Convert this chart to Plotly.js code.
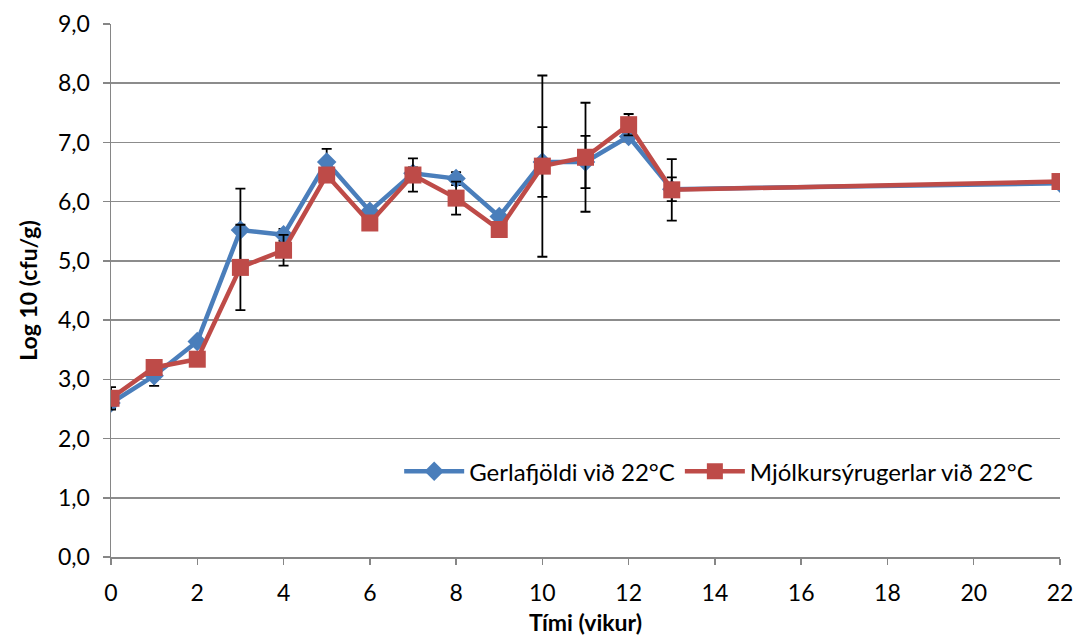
<!DOCTYPE html>
<html>
<head>
<meta charset="utf-8">
<script src="https://cdn.plot.ly/plotly-3.0.1.min.js"></script>
<style>html,body{margin:0;padding:0;background:#fff;}#chart{width:1078px;height:643px;}</style>
</head>
<body>
<div id="chart"></div>
<script>
const weeks = [0, 1, 2, 3, 4, 5, 6, 7, 8, 9, 10, 11, 12, 13, 22];
const gerlafjoldi = [2.60, 3.06, 3.64, 5.52, 5.44, 6.67, 5.84, 6.48, 6.39, 5.75, 6.67, 6.67, 7.10, 6.21, 6.31];
const gerlafjoldiErr = [0.10, 0.17, 0.05, 0.70, 0.10, 0.22, 0.05, 0.10, 0.11, 0.05, 0.59, 0.44, 0.05, 0.20, 0.05];
const mjolkursyru = [2.68, 3.20, 3.34, 4.89, 5.18, 6.45, 5.64, 6.45, 6.06, 5.53, 6.60, 6.75, 7.30, 6.20, 6.34];
const mjolkursyruErr = [0.19, 0.05, 0.05, 0.72, 0.26, 0.05, 0.05, 0.28, 0.28, 0.05, 1.53, 0.92, 0.18, 0.52, 0.05];
const seriesNames = ['Gerlafjöldi við 22°C', 'Mjólkursýrugerlar við 22°C'];

const errStyle = (arr) => ({type: 'data', array: arr, visible: true, color: '#000000', thickness: 1.8, width: 5});

const traces = [
  {
    x: weeks, y: gerlafjoldi, name: seriesNames[0], type: 'scatter', mode: 'lines+markers',
    line: {color: '#4A7EBB', width: 4.5},
    marker: {symbol: 'diamond', size: 15, color: '#4A7EBB'},
    error_y: errStyle(gerlafjoldiErr)
  },
  {
    x: weeks, y: mjolkursyru, name: seriesNames[1], type: 'scatter', mode: 'lines+markers',
    line: {color: '#BE4B48', width: 4.5},
    marker: {symbol: 'square', size: 17, color: '#BE4B48'},
    error_y: errStyle(mjolkursyruErr)
  }
];

const fontFam = 'Lato, "Open Sans", "DejaVu Sans", sans-serif';
const layout = {
  width: 1078, height: 643,
  margin: {l: 111, r: 18, t: 24, b: 86},
  paper_bgcolor: '#ffffff', plot_bgcolor: '#ffffff',
  separators: ',.',
  font: {family: fontFam, size: 23, color: '#000000'},
  showlegend: true,
  legend: {
    orientation: 'h', x: 0.977, xanchor: 'right', y: 0.16, yanchor: 'middle',
    bgcolor: 'rgba(255,255,255,0)', font: {family: fontFam, size: 24, color: '#000'},
    itemwidth: 60, tracegroupgap: 0
  },
  xaxis: {
    range: [0, 22], dtick: 2, tick0: 0, showgrid: false, zeroline: false,
    showline: true, linecolor: '#868686', linewidth: 1.5,
    ticks: 'outside', ticklen: 6, tickcolor: '#868686', tickwidth: 1.5,
    ticklabelstandoff: 9,
    tickfont: {family: fontFam, size: 23, color: '#000'},
    title: {text: '<b>Tími (vikur)</b>', font: {family: fontFam, size: 23, color: '#000'}, standoff: 10},
    automargin: false
  },
  yaxis: {
    range: [0, 9], dtick: 1, tick0: 0, tickformat: '.1f',
    showgrid: true, gridcolor: '#8C8C8C', gridwidth: 1.5, zeroline: false,
    showline: true, linecolor: '#868686', linewidth: 1.5,
    ticks: 'outside', ticklen: 7, tickcolor: '#868686', tickwidth: 1.5,
    ticklabelstandoff: 8,
    tickfont: {family: fontFam, size: 23, color: '#000'},
    title: {text: '<b>Log 10 (cfu/g)</b>', font: {family: fontFam, size: 23, color: '#000'}, standoff: 14},
    automargin: false
  }
};

Plotly.newPlot('chart', traces, layout, {displayModeBar: false, staticPlot: true});
</script>
</body>
</html>
